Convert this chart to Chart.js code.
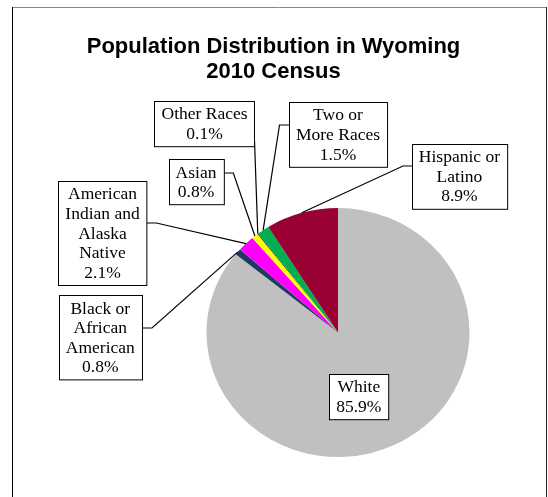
<!DOCTYPE html>
<html>
<head>
<meta charset="utf-8">
<script src="https://cdn.jsdelivr.net/npm/chart.js@4.4.0/dist/chart.umd.min.js"></script>
<style>
  html, body { margin: 0; padding: 0; background: #fff; }
  #wrap { width: 548px; height: 497px; position: relative; }
</style>
</head>
<body>
<div id="wrap"><canvas id="c" width="548" height="497"></canvas></div>
<script>
// ---- data ----
const categories = ['White', 'Black or African American', 'American Indian and Alaska Native', 'Asian', 'Other Races', 'Two or More Races', 'Hispanic or Latino'];
const percents = [85.9, 0.8, 2.1, 0.8, 0.1, 1.5, 8.9];
const labelLines = [
  ['White'],
  ['Black or', 'African', 'American'],
  ['American', 'Indian and', 'Alaska', 'Native'],
  ['Asian'],
  ['Other Races'],
  ['Two or', 'More Races'],
  ['Hispanic or', 'Latino']
];
const titleLines = ['Population Distribution in Wyoming', '2010 Census'];

// ---- styles / layout ----
const sliceColors = ['#C0C0C0', '#1F3A60', '#FF00FF', '#FFFF00', '#1A1A1A', '#00B050', '#990033'];
const hStretch = 131.5 / 124.5;
// label box centres and leader anchor (side, dy from centre)
const labelLayout = [
  { cx: 358.8, cy: 396.3, side: null },
  { cx: 100.3, cy: 337.5, side: 'r', dy: -9.5, elbow: 9.5 },
  { cx: 102.5, cy: 233.0, side: 'r', dy: -10, elbow: 9.5 },
  { cx: 196.0, cy: 182.0, side: 'r', dy: -9, elbow: 9 },
  { cx: 204.5, cy: 123.7, side: 'r', dy: 17, elbow: 0 },
  { cx: 338.0, cy: 134.5, side: 'l', dy: -9.5, elbow: 10 },
  { cx: 459.4, cy: 176.0, side: 'l', dy: -10, elbow: 9.5 }
];
const labelFont = '17.5px "Liberation Serif", "Times New Roman", serif';
const lineH = 19.6;
const titleFont = 'bold 22px "Liberation Sans", Arial, sans-serif';
const titleCenterX = 273.5, titleTopY = 47, titleLineH = 24.5;

const stretchPlugin = {
  id: 'stretch',
  beforeDatasetsDraw(chart) {
    const arc = chart.getDatasetMeta(0).data[0];
    const ctx = chart.ctx;
    ctx.save();
    ctx.translate(arc.x, arc.y);
    ctx.scale(hStretch, 1);
    ctx.translate(-arc.x, -arc.y);
  },
  afterDatasetsDraw(chart) {
    chart.ctx.restore();
  }
};

const framePlugin = {
  id: 'frame',
  beforeDraw(chart) {
    const ctx = chart.ctx;
    ctx.save();
    ctx.fillStyle = '#fff';
    ctx.fillRect(0, 0, chart.width, chart.height);
    ctx.lineWidth = 1;
    ctx.strokeStyle = '#8a8a8a';
    ctx.beginPath(); ctx.moveTo(12, 7.5); ctx.lineTo(547, 7.5); ctx.stroke();
    ctx.strokeStyle = '#000';
    ctx.beginPath(); ctx.moveTo(12.5, 7); ctx.lineTo(12.5, 497); ctx.stroke();
    ctx.strokeStyle = '#222';
    ctx.beginPath(); ctx.moveTo(546.5, 7); ctx.lineTo(546.5, 497); ctx.stroke();
    // title
    ctx.fillStyle = '#000';
    ctx.font = titleFont;
    ctx.textAlign = 'center';
    ctx.textBaseline = 'middle';
    titleLines.forEach((t, k) => ctx.fillText(t, titleCenterX, titleTopY + k * titleLineH));
    ctx.restore();
  }
};

const labelPlugin = {
  id: 'labels',
  afterDatasetsDraw(chart) {
    const ctx = chart.ctx;
    const meta = chart.getDatasetMeta(0);
    ctx.save();
    ctx.font = labelFont;
    meta.data.forEach((arc, i) => {
      const lay = labelLayout[i];
      const lines = labelLines[i].concat([percents[i].toFixed(1) + '%']);
      const w = Math.max(...lines.map(l => ctx.measureText(l).width)) + 14;
      const h = lines.length * lineH + 6;
      const x0 = Math.round(lay.cx - w / 2) + 0.5;
      const y0 = Math.round(lay.cy - h / 2) + 0.5;
      if (lay.side) {
        const mid = (arc.startAngle + arc.endAngle) / 2;
        const px = arc.x + Math.cos(mid) * arc.outerRadius * hStretch;
        const py = arc.y + Math.sin(mid) * arc.outerRadius;
        const sx = lay.side === 'r' ? x0 + w : x0;
        const sy = lay.cy + lay.dy;
        const ex = lay.side === 'r' ? sx + lay.elbow : sx - lay.elbow;
        ctx.strokeStyle = '#000';
        ctx.lineWidth = 1.2;
        ctx.beginPath();
        ctx.moveTo(sx, sy);
        ctx.lineTo(ex, sy);
        ctx.lineTo(px, py);
        ctx.stroke();
      }
      ctx.fillStyle = '#fff';
      ctx.fillRect(x0, y0, w, h);
      ctx.strokeStyle = '#000';
      ctx.lineWidth = 1;
      ctx.strokeRect(x0, y0, w, h);
      ctx.fillStyle = '#000';
      ctx.textAlign = 'center';
      ctx.textBaseline = 'middle';
      const firstY = lay.cy - (lines.length - 1) * lineH / 2;
      lines.forEach((l, k) => ctx.fillText(l, lay.cx, firstY + k * lineH + 1));
    });
    ctx.restore();
  }
};

new Chart(document.getElementById('c'), {
  type: 'pie',
  data: {
    labels: categories,
    datasets: [{
      data: percents,
      backgroundColor: sliceColors,
      borderWidth: 0
    }]
  },
  options: {
    responsive: false,
    animation: false,
    layout: { padding: { left: 188, right: 60, top: 208, bottom: 40 } },
    plugins: {
      legend: { display: false },
      tooltip: { enabled: false },
      title: { display: false }
    }
  },
  plugins: [framePlugin, stretchPlugin, labelPlugin]
});
</script>
</body>
</html>
